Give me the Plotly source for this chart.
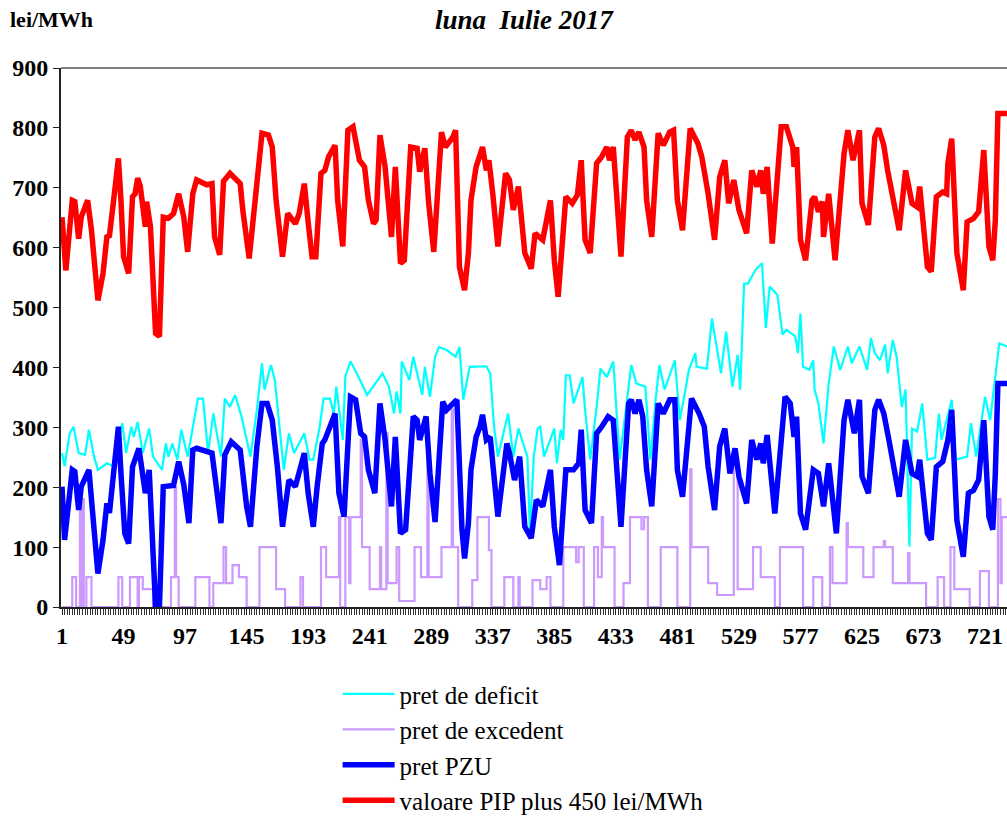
import plotly.graph_objects as go

# ---- data (hour of month, value in lei/MWh) ----
hours_deficit = [1,3,7,10,14,19,22,26,29,36,41,48,51,55,57,60,64,69,72,79,82,84,87,91,94,99,107,111,115,119,125,128,132,136,141,148,153,157,159,164,167,174,178,182,190,194,197,202,205,210,213,215,220,222,226,231,239,251,256,260,262,265,266,272,275,282,284,288,292,295,301,308,311,314,319,332,335,338,341,349,353,357,364,366,369,372,374,377,385,387,390,392,394,397,400,407,409,413,418,421,426,431,436,445,449,456,460,464,467,471,479,483,490,495,496,504,508,515,519,524,528,530,533,536,542,547,550,553,559,563,566,573,575,577,579,584,587,588,591,595,599,603,608,614,617,623,629,632,635,639,643,645,649,652,656,659,662,664,668,672,676,682,685,687,695,698,707,710,714,721,725,732,738,744]
pret_deficit = [257,235,290,301,257,254,296,251,229,240,235,307,257,301,284,309,257,298,251,229,273,251,273,246,296,251,348,348,257,323,251,348,334,354,318,251,329,407,363,404,379,229,290,257,290,246,246,301,348,348,323,368,279,385,410,390,354,390,368,323,360,323,410,379,418,354,401,351,418,434,429,418,434,346,401,402,390,301,251,323,251,298,251,123,251,298,301,251,298,240,296,279,387,387,340,384,329,246,334,398,384,410,246,404,373,368,246,346,404,363,412,312,396,424,401,398,482,390,460,368,421,363,540,540,563,574,466,535,521,455,463,452,424,490,401,396,412,363,340,273,373,435,396,435,407,435,396,449,424,412,438,390,446,418,334,363,101,298,293,340,246,249,323,279,346,246,251,307,251,351,312,440,435,435]

hours_excedent = [1,9,12,15,16,17,18,20,24,45,48,54,60,61,64,72,86,89,90,92,98,105,116,119,127,129,134,139,141,145,155,168,175,187,189,203,207,217,218,222,225,226,234,235,241,249,250,254,255,256,262,264,276,281,286,287,289,297,305,306,310,321,325,334,336,346,353,357,358,368,374,379,382,392,402,404,408,416,419,422,423,425,432,439,444,453,455,458,468,481,491,492,505,512,525,528,530,540,546,557,561,579,587,594,600,602,608,613,614,626,634,642,643,649,661,662,664,675,684,689,694,697,709,717,724,731,733,734,744]
pret_excedent = [0,50,0,200,0,180,0,50,0,50,0,50,0,50,30,0,50,200,50,0,0,50,0,40,100,40,70,50,50,0,100,30,0,50,0,100,50,150,0,150,40,150,280,100,30,100,30,290,40,40,100,10,100,50,280,50,50,100,330,100,0,45,150,95,0,50,0,50,0,45,30,50,0,100,75,100,0,100,50,150,100,100,0,40,150,130,150,0,100,0,230,100,40,20,250,30,30,100,50,0,100,0,50,0,100,40,40,140,100,50,100,110,100,40,90,40,40,0,50,0,100,30,0,60,0,180,40,150,150]

hours_pzu = [1,3,9,11,14,16,22,24,29,33,36,38,41,45,47,50,53,56,61,63,66,69,70,74,77,80,88,92,96,100,103,106,118,125,128,133,140,145,148,153,157,161,165,169,173,178,183,187,190,193,197,200,204,206,209,214,217,221,226,230,234,237,240,245,249,253,258,261,265,269,275,278,280,285,288,292,298,301,306,309,313,315,318,320,324,327,329,332,335,337,341,348,350,354,358,362,367,371,376,382,385,389,394,400,404,406,409,414,418,422,427,431,437,443,445,448,451,454,457,461,466,470,475,479,481,485,492,498,502,505,510,514,518,522,526,529,535,539,543,546,548,551,557,565,569,572,574,577,581,587,591,595,599,605,611,614,619,623,625,630,635,638,642,646,650,654,659,664,668,670,676,679,683,688,692,695,699,704,708,712,716,720,724,727,729,731,738,744]
pret_pzu = [201,112,229,226,162,201,229,179,56,112,173,157,223,301,223,123,106,234,265,234,190,229,179,0,0,201,203,243,204,140,262,265,257,140,254,276,262,168,134,268,340,340,312,234,134,212,201,229,257,190,134,201,273,279,298,323,190,151,351,346,290,284,229,190,340,279,168,284,123,129,318,312,279,318,223,142,343,329,340,346,129,81,140,229,284,301,321,279,284,246,151,273,257,212,251,134,115,179,168,229,134,70,229,229,240,296,162,140,290,301,318,312,134,340,346,323,346,318,229,168,340,323,346,346,229,184,348,323,301,234,162,268,298,223,265,218,173,279,246,273,240,287,156,351,340,284,318,156,129,229,223,168,240,123,312,346,290,346,218,190,329,346,323,279,234,184,279,223,218,246,123,112,234,243,279,329,145,84,190,195,212,312,151,129,223,373,373,373]

hours_pip = [1,4,9,11,14,16,21,24,29,33,36,38,41,45,47,49,53,56,58,60,62,66,67,70,74,77,80,84,88,92,96,99,103,106,114,118,120,124,127,132,140,142,147,152,155,157,162,165,168,173,177,183,186,190,193,196,199,201,203,206,209,214,216,220,224,228,233,237,240,244,246,249,253,258,261,265,268,273,278,280,284,287,291,297,300,306,308,311,315,318,320,324,329,332,334,337,341,347,350,353,357,362,367,370,376,382,385,388,394,399,403,406,409,413,418,422,426,428,431,437,442,445,448,451,455,457,461,466,470,475,478,481,485,491,497,500,505,510,514,518,521,525,529,535,539,543,546,548,551,555,562,566,571,572,574,577,581,586,588,591,594,595,599,604,611,614,618,623,625,630,635,638,642,645,650,654,659,664,668,670,676,679,683,688,691,692,695,699,704,707,712,716,720,724,727,729,731,738,744]
pip = [201,112,229,227,165,201,229,179,62,107,168,170,224,299,229,135,107,235,240,266,253,185,227,185,7,2,201,199,207,240,201,143,240,263,255,257,168,138,261,274,257,213,132,240,313,341,338,318,229,135,207,190,207,257,193,135,135,201,274,279,302,321,229,152,346,352,296,285,229,190,196,338,285,168,285,124,129,318,316,277,316,224,143,343,318,335,346,118,79,141,229,285,318,279,296,240,152,274,263,213,252,141,115,174,163,229,129,68,235,224,238,296,163,141,291,302,318,296,318,135,335,346,330,343,318,229,168,341,321,343,346,229,179,349,324,302,240,163,268,296,224,263,213,174,279,252,279,240,285,157,352,352,318,285,318,163,129,229,235,210,227,168,240,129,307,346,296,346,224,188,335,349,321,279,229,179,279,224,218,252,118,110,235,243,240,291,332,141,79,193,199,210,313,152,129,196,374,374,374]
pip_plus_450 = [v + 450 for v in pip]

tick_hours = [1,49,97,145,193,241,289,337,385,433,481,529,577,625,673,721]

SERIF = "Liberation Serif, Times New Roman, serif"

fig = go.Figure()
fig.add_trace(go.Scatter(x=hours_deficit, y=pret_deficit, mode="lines", name="pret de deficit",
                         legendgroup="g1", line=dict(color="#00FFFF", width=2.2)))
fig.add_trace(go.Scatter(x=hours_excedent, y=pret_excedent, mode="lines", name="pret de excedent",
                         legendgroup="g2", line=dict(color="#CC99FF", width=2.2, shape="hv")))
fig.add_trace(go.Scatter(x=hours_pzu, y=pret_pzu, mode="lines", name="pret PZU",
                         legendgroup="g3", line=dict(color="#0000FF", width=5.5)))
fig.add_trace(go.Scatter(x=hours_pip, y=pip_plus_450, mode="lines", name="valoare PIP plus 450 lei/MWh",
                         legendgroup="g4", line=dict(color="#FF0000", width=5.5)))

fig.update_layout(
    width=1007, height=818,
    margin=dict(l=61, r=0, t=68, b=211, autoexpand=False),
    paper_bgcolor="white", plot_bgcolor="white",
    font=dict(family=SERIF, color="black"),
    showlegend=True,
    legend=dict(x=0.2924, y=-0.1188, xanchor="left", yanchor="top",
                font=dict(family=SERIF, size=25, color="black"),
                itemwidth=52, bgcolor="rgba(0,0,0,0)", tracegroupgap=2,
                traceorder="normal"),
    xaxis=dict(range=[0.22, 738.1], tickmode="array", tickvals=tick_hours,
               ticktext=[str(t) for t in tick_hours], automargin=False,
               tickfont=dict(family=SERIF, size=24, color="black", weight="bold"),
               ticks="outside", ticklen=6, tickcolor="#222", tickwidth=1,
               showline=True, linecolor="#222", linewidth=2,
               showgrid=False, zeroline=False,
               minor=dict(dtick=2, tick0=1, ticks="outside", ticklen=6,
                          tickcolor="#333", tickwidth=1, showgrid=False)),
    yaxis=dict(range=[0, 900], tickmode="linear", tick0=0, dtick=100, automargin=False,
               tickfont=dict(family=SERIF, size=24, color="black", weight="bold"),
               ticks="outside", ticklen=6, tickcolor="#222", tickwidth=1,
               showline=True, linecolor="#222", linewidth=2,
               showgrid=False, zeroline=False),
)

fig.add_shape(type="line", xref="paper", yref="paper", x0=0, x1=1, y0=1, y1=1,
              line=dict(color="#808080", width=2))

fig.add_annotation(text="<b><i>luna  Iulie 2017</i></b>", xref="paper", yref="paper",
                   x=(524 - 61) / 946, y=1 + (68 - 20) / 539, xanchor="center", yanchor="middle",
                   showarrow=False, font=dict(family=SERIF, size=27, color="black"))
fig.add_annotation(text="<b>lei/MWh</b>", xref="paper", yref="paper",
                   x=(8 - 61) / 946, y=1 + (68 - 19) / 539, xanchor="left", yanchor="middle",
                   showarrow=False, font=dict(family=SERIF, size=22, color="black"))

fig.write_html("out.html", config={"displayModeBar": False},
               post_script="document.body.style.margin='0';document.body.style.overflow='hidden';")
